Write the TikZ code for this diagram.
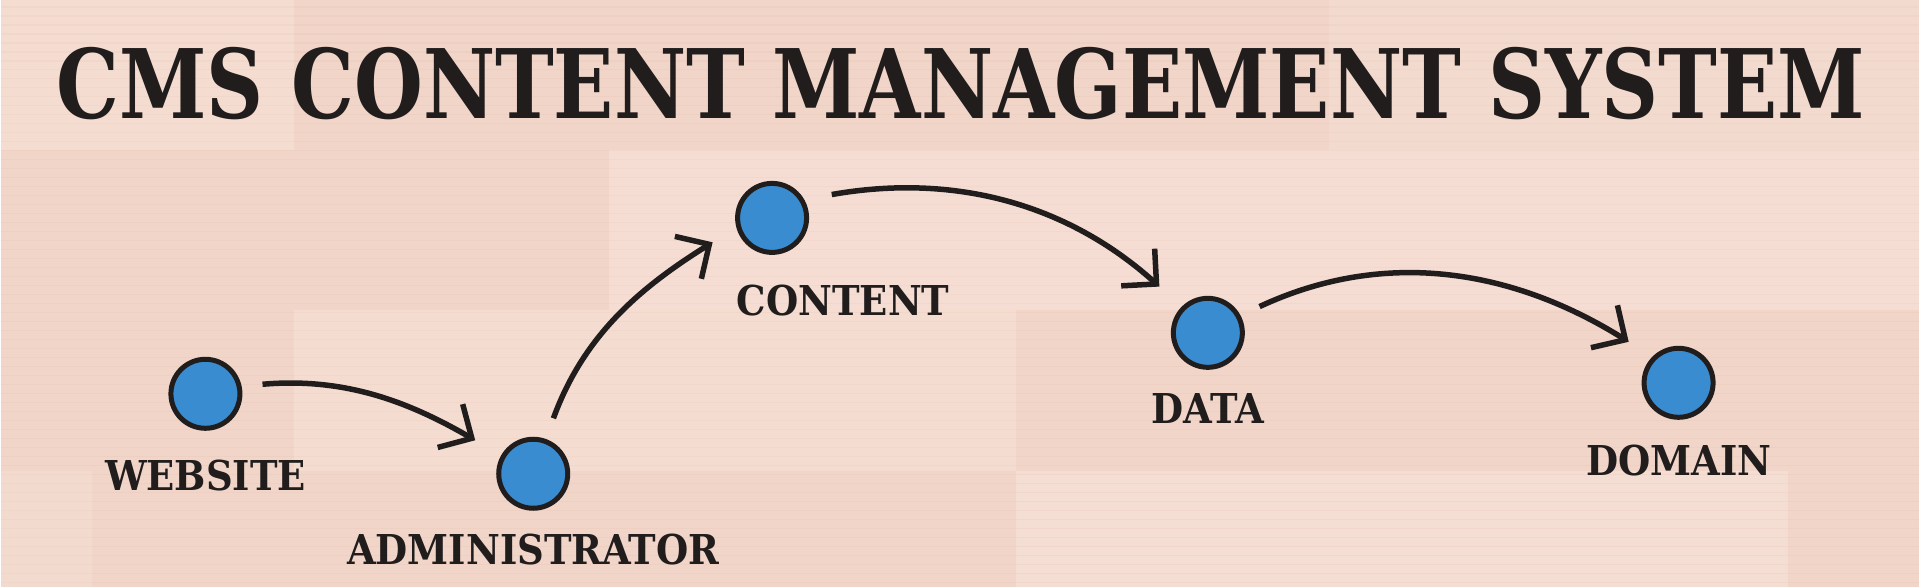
\documentclass[tikz,border=0pt]{standalone}
\usepackage{fontspec}
\setmainfont{DejaVu Serif Condensed}
\newfontfamily\titlefont{DejaVu Serif Condensed}[FakeStretch=0.915]
\usetikzlibrary{positioning,arrows.meta}

\definecolor{wood}{RGB}{241,213,201}
\definecolor{woodlight}{RGB}{246,225,215}
\definecolor{wooddark}{RGB}{224,178,158}
\definecolor{dotblue}{RGB}{58,140,208}
\definecolor{ink}{RGB}{33,29,29}

\tikzset{
  dot/.style={circle, draw=ink, line width=0.05cm, fill=dotblue, minimum size=0.69cm, inner sep=0pt},
  lbl/.style={font=\bfseries\fontsize{11.7}{13}\selectfont, text=ink, inner sep=0pt},
  flow/.style={draw=ink, line width=0.055cm, -{Straight Barb[length=2.5mm,width=5.0mm]}}
}

\begin{document}
\begin{tikzpicture}[x=0.01cm, y=-0.01cm]
    \fill[wood] (0,0) rectangle (1920,587);
    \foreach \xa/\ya/\xb/\yb/\t in {0/0/294/150/60, 1329/0/1920/150/40, 609/150/1920/310/70,
        294/310/1016/471/55, 0/471/92/587/45, 1016/471/1788/587/65}
        \fill[woodlight!\t!wood] (\xa,\ya) rectangle (\xb,\yb);
    \foreach \y in {7,16,...,587}
        \draw[wooddark, opacity=0.12, line width=0.3pt] (0,\y) -- (1920,\y);
    \useasboundingbox (0,0) rectangle (1920,587);

    \node[font=\titlefont\bfseries\fontsize{27.3}{30}\selectfont, text=ink, inner sep=0pt] (title) at (961,84) {CMS CONTENT MANAGEMENT SYSTEM};

    \node[dot] (web) at (205,394) {};
    \node[dot] (adm) at (533,474) {};
    \node[dot] (cnt) at (772,218) {};
    \node[dot] (dat) at (1208,333) {};
    \node[dot] (dom) at (1679,383) {};

    \node[lbl, below=0.28cm of web] (webl) {WEBSITE};
    \node[lbl, below=0.23cm of adm] (adml) {ADMINISTRATOR};
    \node[lbl, below=0.29cm of cnt, xshift=0.71cm] (cntl) {CONTENT};
    \node[lbl, below=0.23cm of dat] (datl) {DATA};
    \node[lbl, below=0.24cm of dom] (doml) {DOMAIN};

    \draw[flow, shorten <=0.21cm, shorten >=0.30cm] (web.12) to[out=5, in=150] (adm.150);
    \draw[flow, shorten <=0.22cm, shorten >=0.28cm] (adm.70) to[out=70, in=212] (cnt.195);
    \draw[flow, shorten <=0.28cm, shorten >=0.30cm] (cnt.30) to[out=10, in=138] (dat.135);
    \draw[flow, shorten <=0.21cm, shorten >=0.28cm] (dat.28) to[out=25, in=148] (dom.135);
\end{tikzpicture}
\end{document}
